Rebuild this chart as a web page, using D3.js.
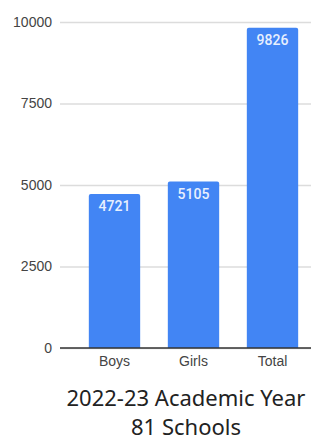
<!DOCTYPE html>
<html>
<head>
<meta charset="utf-8">
<script src="https://cdn.jsdelivr.net/npm/d3@7"></script>
<style>
  body { margin: 0; background: #fff; }
  svg { display: block; }
</style>
</head>
<body>
<div class="chart"></div>
<script>
// DATA ------------------------------------
const categories = ["Boys", "Girls", "Total"]
const students = [4721, 5105, 9826]
const yTicks = [0, 2500, 5000, 7500, 10000]
const titleLines = ["2022-23 Academic Year", "81 Schools"]

const data = categories.map((c, i) => ({category: c, value: students[i]}))

// SIZE
const width = 317, height = 441
const plot = {left: 60, right: 311, top: 22, bottom: 348}

const svg = d3.select(".chart")
  .append("svg")
  .attr("width", width)
  .attr("height", height)

// scales
const xScale = d3.scaleBand()
  .domain(categories)
  .range([75, 312])
  .paddingInner(0.35)
  .paddingOuter(0.175)

const yScale = d3.scaleLinear()
  .domain([0, 10000])
  .range([plot.bottom, plot.top])

// gridlines + y labels
const yAxis = d3.axisLeft(yScale)
  .tickValues(yTicks)
  .tickSize(-(plot.right - plot.left))
  .tickPadding(8)
  .tickFormat(d3.format("d"))

const yG = svg.append("g")
  .attr("transform", `translate(${plot.left},0)`)
  .call(yAxis)
yG.select(".domain").remove()
yG.selectAll(".tick line").attr("stroke", "#dcdcdc").attr("stroke-width", 1.3)
yG.selectAll(".tick text")
  .attr("fill", "#444")
  .style("font-family", "'Liberation Sans', Arial, sans-serif")
  .style("font-size", "14px")

// bars
svg.selectAll(".bar")
  .data(data)
  .enter()
  .append("path")
  .attr("class", "bar")
  .attr("fill", "#4285f4")
  .attr("d", d => {
    const x0 = xScale(d.category), w = xScale.bandwidth()
    const y0 = yScale(d.value), y1 = yScale(0), r = 2
    return `M${x0},${y1}V${y0 + r}Q${x0},${y0} ${x0 + r},${y0}H${x0 + w - r}Q${x0 + w},${y0} ${x0 + w},${y0 + r}V${y1}Z`
  })

// value labels
svg.selectAll(".val")
  .data(data)
  .enter()
  .append("text")
  .attr("class", "val")
  .attr("x", d => xScale(d.category) + xScale.bandwidth() / 2)
  .attr("y", d => yScale(d.value) + 17)
  .attr("text-anchor", "middle")
  .attr("fill", "#e8f0fe")
  .style("font-family", "Roboto, 'Liberation Sans', sans-serif")
  .style("font-size", "14px")
  .style("font-weight", "500")
  .text(d => d.value)

// baseline
svg.append("line")
  .attr("x1", plot.left).attr("x2", plot.right)
  .attr("y1", yScale(0)).attr("y2", yScale(0))
  .attr("stroke", "#333").attr("stroke-width", 1.3)

// x axis labels
const xAxis = d3.axisBottom(xScale).tickSize(0).tickPadding(8)
const xG = svg.append("g")
  .attr("transform", `translate(0,${yScale(0)})`)
  .call(xAxis)
xG.select(".domain").remove()
xG.selectAll(".tick text")
  .attr("fill", "#444")
  .style("font-family", "'Liberation Sans', Arial, sans-serif")
  .style("font-size", "14px")

// title
svg.selectAll(".title")
  .data(titleLines)
  .enter()
  .append("text")
  .attr("class", "title")
  .attr("x", 186)
  .attr("y", (d, i) => 406 + i * 29)
  .attr("text-anchor", "middle")
  .attr("fill", "#222")
  .style("font-family", "'Noto Sans', sans-serif")
  .style("font-size", "22px")
  .text(d => d)
</script>
</body>
</html>
